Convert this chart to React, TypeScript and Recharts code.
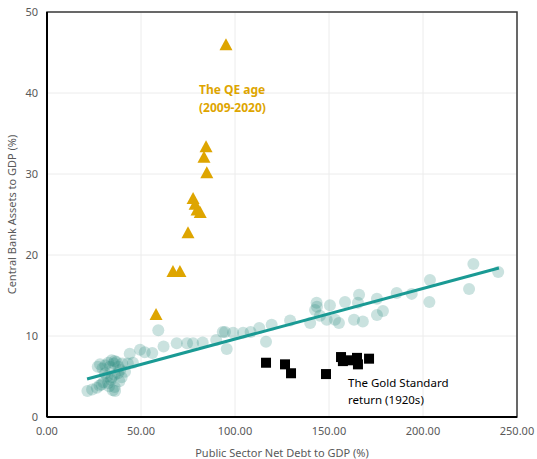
import React from "react"
import {
  ScatterChart,
  Scatter,
  XAxis,
  YAxis,
  CartesianGrid,
  ReferenceArea,
} from "recharts"

// modern era observations (debt %, central bank assets %)
const modernPoints = [
  { x: 21.5, y: 3.2 }, { x: 24, y: 3.4 }, { x: 26.5, y: 3.6 }, { x: 28, y: 3.9 },
  { x: 30, y: 4.3 }, { x: 32.5, y: 4.2 }, { x: 34, y: 4.6 }, { x: 36, y: 3.7 },
  { x: 36.2, y: 3.2 }, { x: 35, y: 3.3 }, { x: 33, y: 3.8 }, { x: 29, y: 4.0 },
  { x: 27, y: 6.2 }, { x: 28.2, y: 6.5 }, { x: 29.5, y: 6.0 }, { x: 31, y: 6.4 },
  { x: 32.6, y: 6.7 }, { x: 33.5, y: 6.2 }, { x: 34.4, y: 7.0 }, { x: 35.5, y: 6.6 },
  { x: 37, y: 6.8 }, { x: 38, y: 6.2 }, { x: 36, y: 6.9 }, { x: 30.9, y: 5.4 },
  { x: 32, y: 5.0 }, { x: 34.4, y: 4.9 }, { x: 36, y: 5.2 }, { x: 37.8, y: 5.4 },
  { x: 39, y: 5.8 }, { x: 39.7, y: 4.9 }, { x: 38.5, y: 4.4 }, { x: 41.5, y: 5.6 },
  { x: 40, y: 6.6 }, { x: 43, y: 6.6 }, { x: 45.7, y: 6.7 }, { x: 44, y: 7.8 },
  { x: 49.5, y: 8.3 }, { x: 52, y: 8.0 }, { x: 56, y: 7.9 }, { x: 59.2, y: 10.7 },
  { x: 62, y: 8.7 }, { x: 69, y: 9.1 }, { x: 74.5, y: 9.1 }, { x: 77.7, y: 9.1 },
  { x: 82.8, y: 9.2 }, { x: 90, y: 9.5 }, { x: 93.5, y: 10.5 }, { x: 94.7, y: 10.5 },
  { x: 95.6, y: 8.4 }, { x: 99, y: 10.4 }, { x: 104.3, y: 10.4 }, { x: 108.3, y: 10.5 },
  { x: 112.9, y: 11.0 }, { x: 116.5, y: 9.3 }, { x: 119.5, y: 11.4 }, { x: 129.3, y: 11.9 },
  { x: 140, y: 11.6 }, { x: 143.4, y: 14.1 }, { x: 143.6, y: 13.6 }, { x: 142.6, y: 13.2 },
  { x: 145.2, y: 12.5 }, { x: 148.8, y: 12.0 }, { x: 150.5, y: 13.8 }, { x: 153.2, y: 12.0 },
  { x: 155.3, y: 11.6 }, { x: 158.5, y: 14.2 }, { x: 163.3, y: 12.0 }, { x: 165.4, y: 14.1 },
  { x: 166, y: 15.1 }, { x: 168, y: 11.8 }, { x: 175.5, y: 14.6 }, { x: 175.5, y: 12.6 },
  { x: 178.7, y: 13.1 }, { x: 186, y: 15.3 }, { x: 194, y: 15.2 }, { x: 203.7, y: 16.9 },
  { x: 203.4, y: 14.2 }, { x: 224.5, y: 15.8 }, { x: 226.8, y: 18.9 }, { x: 240, y: 17.9 },
]

// 2009-2020
const qePoints = [
  { x: 95.2, y: 45.9 }, { x: 84.6, y: 33.3 }, { x: 83.5, y: 32.0 }, { x: 85, y: 30.1 },
  { x: 77.7, y: 26.9 }, { x: 78.8, y: 26.2 }, { x: 79.8, y: 25.5 }, { x: 81.5, y: 25.2 },
  { x: 75, y: 22.7 }, { x: 67, y: 17.9 }, { x: 70.7, y: 17.9 }, { x: 58, y: 12.6 },
]

// 1920s
const goldPoints = [
  { x: 116.5, y: 6.7 }, { x: 126.6, y: 6.5 }, { x: 129.8, y: 5.4 }, { x: 148.4, y: 5.3 },
  { x: 156.4, y: 7.4 }, { x: 157.4, y: 6.9 }, { x: 160.1, y: 7.0 }, { x: 164.9, y: 7.3 },
  { x: 165.4, y: 6.5 }, { x: 171.3, y: 7.2 },
]

const trendLine = [
  { x: 21.3, y: 4.7 },
  { x: 240.4, y: 18.4 },
]

const xTicks = [0, 50, 100, 150, 200, 250]
const yTicks = [0, 10, 20, 30, 40, 50]

const font = "'Noto Sans', sans-serif"
const tickStyle = { fontSize: 11, fill: "#595959", fontFamily: font }

const Dot = (p: any) => <circle cx={p.cx} cy={p.cy} r={6} fill="#2a8c80" fillOpacity={0.25} />

const Tri = (p: any) => (
  <polygon
    points={`${p.cx},${p.cy - 7} ${p.cx - 6.5},${p.cy + 5} ${p.cx + 6.5},${p.cy + 5}`}
    fill="#dea500"
  />
)

const Sq = (p: any) => <rect x={p.cx - 5} y={p.cy - 5} width={10} height={10} fill="#000" />

const NoShape = () => <g />

export default function App() {
  return (
    <div style={{ position: "absolute", left: 0, top: 0, width: 537, height: 459, background: "#fff" }}>
      <ScatterChart width={537} height={459} margin={{ top: 12, right: 20, bottom: 0, left: 0 }}>
        <CartesianGrid stroke="#ececec" />
        <XAxis
          type="number"
          dataKey="x"
          domain={[0, 250]}
          ticks={xTicks}
          tickFormatter={(v) => v.toFixed(2)}
          tickLine={false}
          tickSize={0}
          tickMargin={10}
          axisLine={{ stroke: "#000", strokeWidth: 2 }}
          tick={tickStyle}
          height={42}
          label={{
            value: "Public Sector Net Debt to GDP (%)",
            position: "insideBottom",
            offset: 2,
            style: { fontSize: 11, fill: "#595959", fontFamily: font },
          }}
        />
        <YAxis
          type="number"
          dataKey="y"
          domain={[0, 50]}
          ticks={yTicks}
          tickLine={false}
          tickSize={0}
          tickMargin={9}
          axisLine={{ stroke: "#000", strokeWidth: 2 }}
          tick={tickStyle}
          width={47}
          label={{
            value: "Central Bank Assets to GDP (%)",
            angle: -90,
            position: "insideLeft",
            offset: 12,
            style: { fontSize: 11, fill: "#595959", fontFamily: font, textAnchor: "middle" },
          }}
        />
        <ReferenceArea x1={0} x2={250} y1={0} y2={50} fill="none" stroke="#3a3a3a" strokeWidth={1.5} />
        <Scatter data={modernPoints} shape={Dot} isAnimationActive={false} />
        <Scatter
          data={trendLine}
          line={{ stroke: "#1a9a94", strokeWidth: 3 }}
          shape={NoShape}
          isAnimationActive={false}
        />
        <Scatter data={goldPoints} shape={Sq} isAnimationActive={false} />
        <Scatter data={qePoints} shape={Tri} isAnimationActive={false} />
      </ScatterChart>
      <div
        style={{
          position: "absolute",
          left: 199,
          top: 81,
          color: "#dea500",
          fontFamily: font,
          fontWeight: 700,
          fontSize: 12,
          lineHeight: "18px",
        }}
      >
        The QE age
        <br />
        (2009-2020)
      </div>
      <div
        style={{
          position: "absolute",
          left: 348,
          top: 374,
          color: "#000",
          fontFamily: font,
          fontSize: 11.5,
          lineHeight: "17px",
        }}
      >
        The Gold Standard
        <br />
        return (1920s)
      </div>
    </div>
  )
}
